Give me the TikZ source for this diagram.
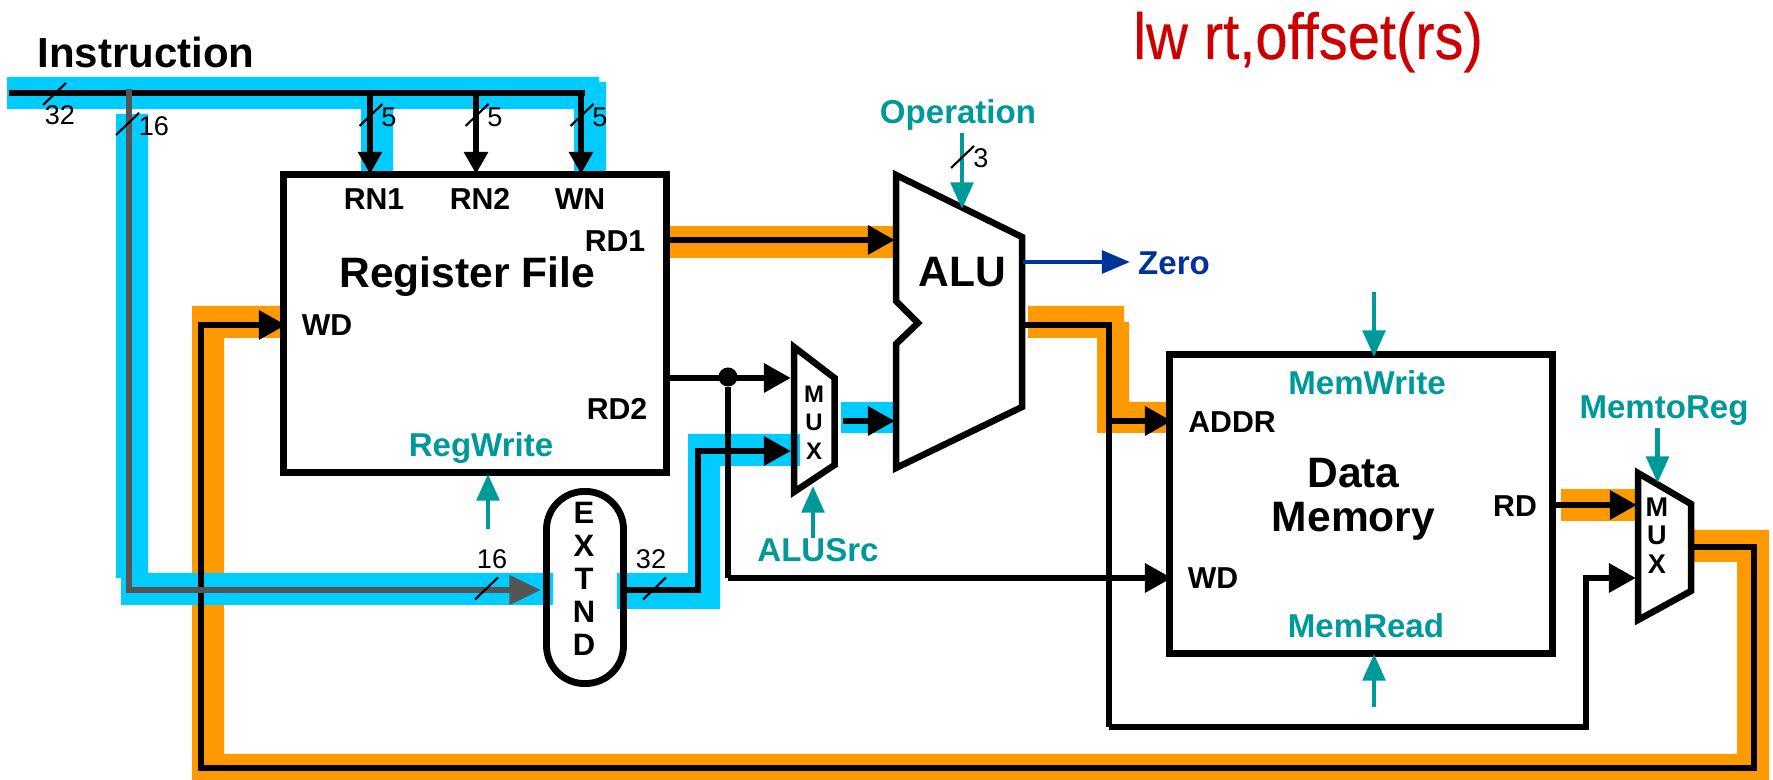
\documentclass[tikz,border=0pt]{standalone}
\usepackage{xcolor}
\usepackage{fontspec}
\setmainfont{Liberation Sans}
\newfontfamily\titlefont[FakeStretch=0.89,FakeBold=0.35]{Liberation Sans}
\usetikzlibrary{arrows.meta}
\definecolor{busblue}{HTML}{00CCFF}
\definecolor{busorange}{HTML}{FF9900}
\definecolor{ctrlteal}{HTML}{009999}
\definecolor{zeroblue}{HTML}{003399}
\definecolor{titlered}{HTML}{CC0000}
\definecolor{signgray}{HTML}{555555}
\begin{document}
\begin{tikzpicture}[x=0.01cm,y=-0.01cm,
	wire/.style={line width=1.95pt},
	bigtip/.style={-{Triangle[length=7.7pt,width=7.9pt]}},
	smalltip/.style={line width=1.6pt,-{Triangle[length=6.3pt,width=6.6pt]}},
	ctrltip/.style={line width=1.3pt,color=ctrlteal,-{Triangle[length=7.6pt,width=6.4pt]}},
	block/.style={draw,line width=1.95pt,inner sep=0pt},
	unit/.style={line width=1.85pt,line join=miter},
	port/.style={inner sep=0pt,font=\fontsize{8.6}{10}\selectfont\bfseries},
	ctrl/.style={inner sep=0pt,text=ctrlteal,font=\fontsize{9.4}{11}\selectfont\bfseries},
	width/.style={inner sep=0pt,font=\fontsize{7.7}{9}\selectfont},
	big/.style={inner sep=0pt,font=\fontsize{12.1}{12.5}\selectfont\bfseries,align=center},
	slash/.style={line width=0.6pt}]
\useasboundingbox (0,0) rectangle (1773,780);
\fill[busorange] (669,226) -- (893,226) -- (893,258) -- (669,258) -- cycle;
\fill[busorange] (1028,306) -- (1124,306) -- (1124,322) -- (1129,322) -- (1129,402) -- (1167,402)
	-- (1167,433) -- (1097,433) -- (1097,338) -- (1028,338) -- cycle;
\fill[busorange] (1561,489) -- (1635,489) -- (1635,521) -- (1561,521) -- cycle;
\fill[busorange] (192,306) -- (282,306) -- (282,338) -- (224,338) -- (224,754) -- (1737,754)
	-- (1737,562) -- (1694,562) -- (1694,530) -- (1769,530) -- (1769,780) -- (192,780) -- cycle;
\fill[busblue] (7,77) -- (599,77) -- (599,82) -- (606,82) -- (606,175) -- (574,175) -- (574,109)
	-- (393,109) -- (393,175) -- (361,175) -- (361,109) -- (7,109) -- cycle;
\fill[busblue] (116,114) -- (148,114) -- (148,573) -- (553,573) -- (553,605) -- (121,605)
	-- (121,578) -- (116,578) -- cycle;
\fill[busblue] (617,573) -- (688,573) -- (688,434) -- (800,434) -- (800,466) -- (720,466)
	-- (720,609) -- (617,609) -- cycle;
\fill[busblue] (841,402) -- (893,402) -- (893,433) -- (841,433) -- cycle;

\node[block,minimum width=3.825cm,minimum height=2.97cm] (regfile) at (474.75,323.5) {};
\node[block,minimum width=3.82cm,minimum height=2.98cm] (datamem) at (1361,504) {};
\node[block,rectangle,rounded corners=0.38cm,minimum width=0.77cm,minimum height=1.92cm] (extnd) at (585,587.5) {};
\draw[unit] (896,175) -- (1022,237) -- (1022,407) -- (896,468) -- (896,344) -- (918,323) -- (896,301) -- cycle;
\draw[unit] (794,347) -- (834.5,378) -- (834.5,465) -- (794,492) -- cycle;
\draw[unit] (1638,473) -- (1691,504) -- (1691,591) -- (1638,620) -- cycle;

\node[inner sep=0pt,font=\fontsize{11.95}{14}\selectfont\bfseries] (instr) at (146,52) {Instruction};
\node[inner sep=0pt,anchor=base,text=titlered,font=\fontsize{18.5}{22}\selectfont\titlefont] (title) at (1308,59) {lw rt,offset(rs)};
\node[big] (regname) at (467,276.5) {Register File};
\node[big] (aluname) at (962,272) {ALU};
\node[big] (memname) at (1353.5,499.5) {Data\\Memory};
\node[port] (rn1) at (374,199) {RN1};
\node[port] (rn2) at (480,199) {RN2};
\node[port] (wn) at (580,199) {WN};
\node[port] (rd1) at (615,241) {RD1};
\node[port] (rd2) at (617,409) {RD2};
\node[port] (wdreg) at (327,325) {WD};
\node[port] (addr) at (1232,422) {ADDR};
\node[port] (wdmem) at (1213,578) {WD};
\node[port] (rdmem) at (1515,506) {RD};
\node[port,align=center,font=\fontsize{8.8}{9.4}\selectfont\bfseries] (extname) at (584,578.5) {E\\X\\T\\N\\D};
\node[port,align=center,font=\fontsize{6.8}{8.1}\selectfont\bfseries] (muxa) at (814,422.5) {M\\U\\X};
\node[port,align=center,font=\fontsize{7.7}{8.1}\selectfont\bfseries] (muxb) at (1657,535.5) {M\\U\\X};
\node[ctrl] (opname) at (958,115) {Operation};
\node[ctrl] (regwrite) at (481,448) {RegWrite};
\node[ctrl] (alusrc) at (818,550) {ALUSrc};
\node[ctrl] (memwrite) at (1367,383) {MemWrite};
\node[ctrl] (memread) at (1366,626) {MemRead};
\node[ctrl] (memtoreg) at (1664,411) {MemtoReg};
\node[ctrl,text=zeroblue] (zero) at (1174,263) {Zero};
\node[width] (w32a) at (60,115) {32};
\node[width] (w16a) at (154,126) {16};
\node[width] (w5a) at (389,117) {5};
\node[width] (w5b) at (495,117) {5};
\node[width] (w5c) at (600,117) {5};
\node[width] (w3) at (981,158) {3};
\node[width] (w16b) at (492,559) {16};
\node[width] (w32b) at (651,559) {32};

\coordinate (busstart) at (9,93);
\coordinate (busend) at (585,93);
\coordinate (busrn1) at (370,93);
\coordinate (busrn2) at (476,93);
\coordinate (buswn) at (581,93);
\coordinate (rn1in) at (370,174);
\coordinate (rn2in) at (476,174);
\coordinate (wnin) at (581,174);
\coordinate (rd1out) at (666,240);
\coordinate (alua) at (895,240);
\coordinate (rd2out) at (666,378);
\node[circle,fill=black,inner sep=0pt,minimum size=5.4pt] (rd2dot) at (728,377) {};
\coordinate (muxain) at (791,378);
\coordinate (imm) at (129,89);
\coordinate (immturn) at (129,590);
\coordinate (extin) at (541,590);
\coordinate (extout) at (625,590);
\coordinate (extturn) at (698,590);
\coordinate (extup) at (698,451);
\coordinate (muxbin) at (791,451);
\coordinate (muxaout) at (843,421);
\coordinate (alub) at (895,421);
\coordinate (aluout) at (1022,325);
\coordinate (aluturn) at (1109,325);
\coordinate (addrin) at (1172,421);
\coordinate (addrdrop) at (1109,421);
\coordinate (bypassa) at (1109,727);
\coordinate (bypassb) at (1586,727);
\coordinate (bypassc) at (1586,578);
\coordinate (muxwbb) at (1636,578);
\coordinate (wddown) at (728,578);
\coordinate (wdin) at (1172,578);
\coordinate (rdout) at (1552,505);
\coordinate (muxwba) at (1637,505);
\coordinate (muxwbout) at (1691,547);
\coordinate (wbright) at (1754,547);
\coordinate (wbcornerr) at (1754,768);
\coordinate (wbcornerl) at (201,768);
\coordinate (wbup) at (201,325);
\coordinate (wdregin) at (286,325);
\coordinate (zeroout) at (1023,262);
\coordinate (zerotip) at (1130,262);
\coordinate (opstart) at (962,133);
\coordinate (optip) at (962,209);
\coordinate (rwstart) at (488,529);
\coordinate (rwtip) at (488,474);
\coordinate (srcstart) at (813,538);
\coordinate (srctip) at (813,486);
\coordinate (mwstart) at (1374,292);
\coordinate (mwtip) at (1374,357);
\coordinate (mrstart) at (1374,707);
\coordinate (mrtip) at (1374,654);
\coordinate (mtrstart) at (1657.5,428);
\coordinate (mtrtip) at (1657.5,483);

\draw[wire] (busstart) -- (busend);
\draw[smalltip] (busrn1) -- (rn1in);
\draw[smalltip] (busrn2) -- (rn2in);
\draw[smalltip] (buswn) -- (wnin);
\draw[wire,bigtip] (rd1out) -- (alua);
\draw[wire,bigtip] (rd2out) -- (muxain);
\draw[wire] (rd2dot) -- (wddown);
\draw[wire,bigtip] (wddown) -- (wdin);
\draw[wire,bigtip] (extout) -- (extturn) -- (extup) -- (muxbin);
\draw[wire,bigtip] (muxaout) -- (alub);
\draw[wire] (aluout) -- (aluturn) -- (bypassa);
\draw[wire,bigtip] (addrdrop) -- (addrin);
\draw[wire,bigtip] (bypassa) -- (bypassb) -- (bypassc) -- (muxwbb);
\draw[wire,bigtip] (rdout) -- (muxwba);
\draw[wire,bigtip] (muxwbout) -- (wbright) -- (wbcornerr) -- (wbcornerl) -- (wbup) -- (wdregin);
\draw[wire,signgray,-{Triangle[length=9pt,width=8pt]}] (imm) -- (immturn) -- (extin);
\draw[line width=1.3pt,color=zeroblue,-{Triangle[length=8pt,width=6.4pt]}] (zeroout) -- (zerotip);
\draw[ctrltip] (opstart) -- (optip);
\draw[ctrltip] (rwstart) -- (rwtip);
\draw[ctrltip] (srcstart) -- (srctip);
\draw[ctrltip] (mwstart) -- (mwtip);
\draw[ctrltip] (mrstart) -- (mrtip);
\draw[ctrltip] (mtrstart) -- (mtrtip);
\foreach \x/\y in {54.5/94,127.5/124,371/115,477/115,582/115,486.5/588.5,654.5/588.5,962.5/157}
	\draw[slash] (\x,\y) ++(11.5,-11) -- ++(-23,22);
\end{tikzpicture}
\end{document}
